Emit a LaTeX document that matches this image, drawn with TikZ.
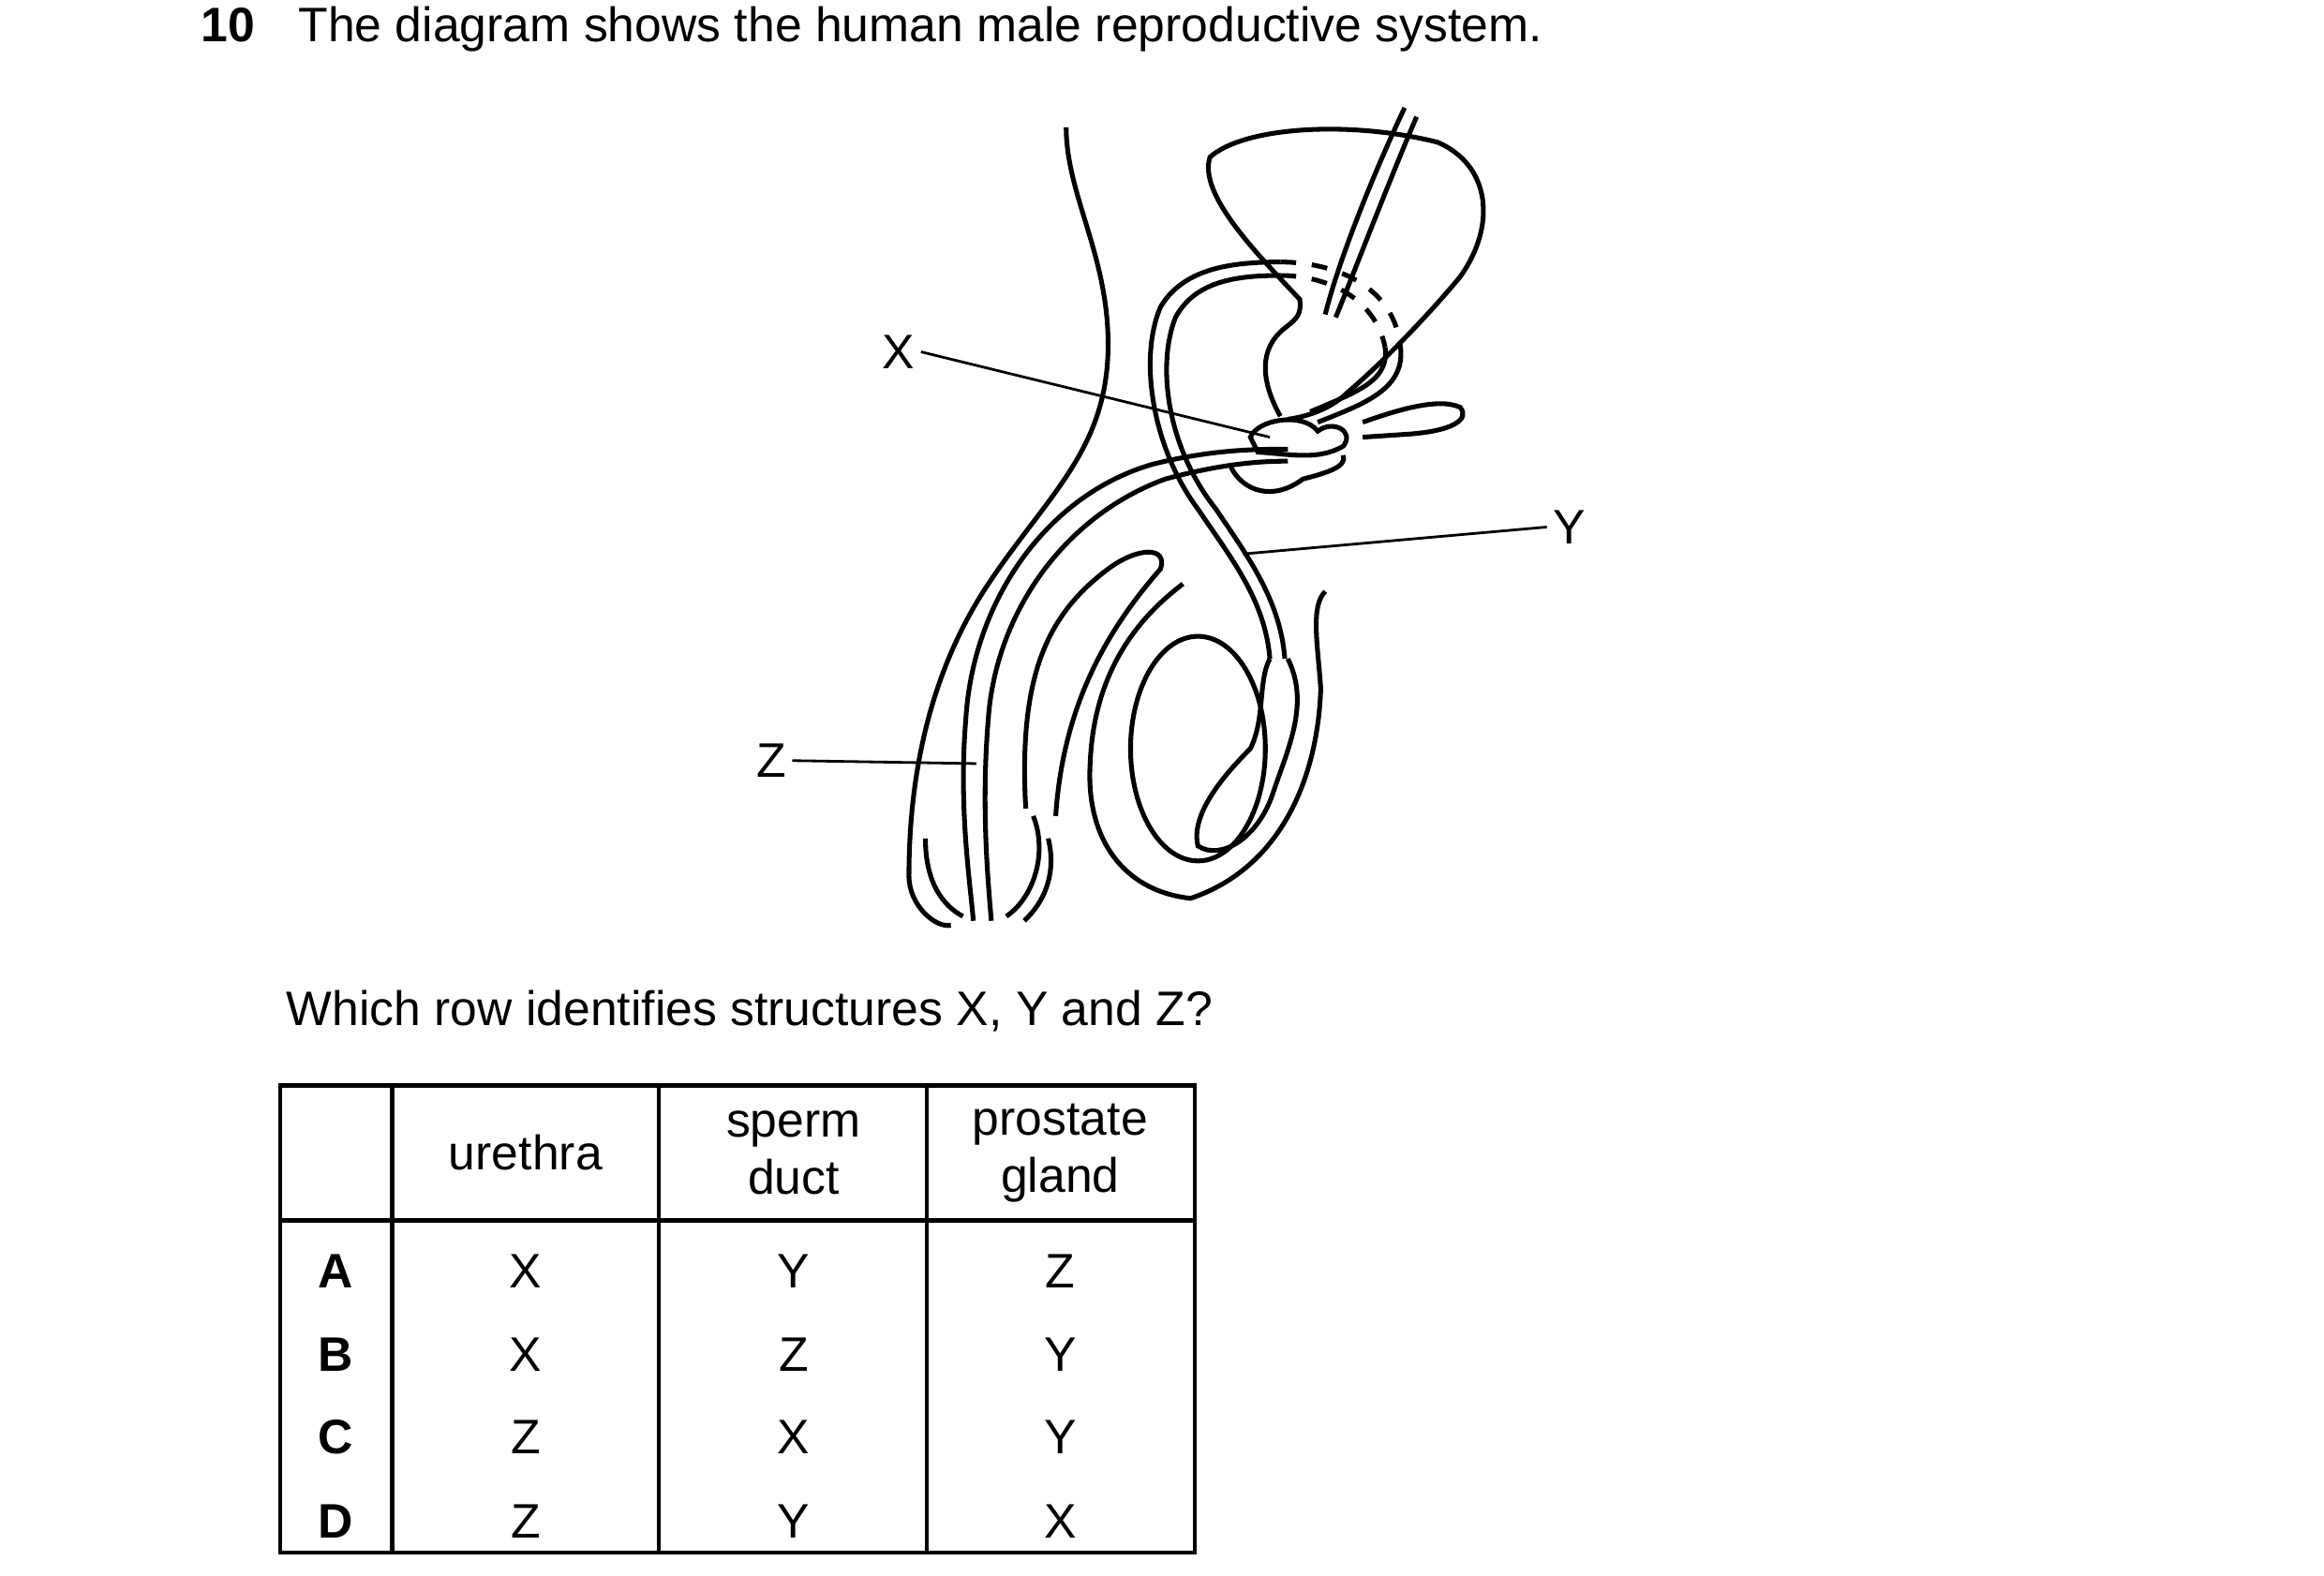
\documentclass[tikz,border=0pt]{standalone}
\usepackage{fontspec}
\setmainfont{Liberation Sans}
\begin{document}
\begin{tikzpicture}[x=0.01cm,y=-0.01cm,
 txt/.style={font=\fontsize{9.2pt}{10.8pt}\selectfont,inner sep=1pt},
 org/.style={line width=0.9pt},
 lbl/.style={line width=0.5pt}]
\useasboundingbox (0,0) rectangle (1552,1052);
\node[txt,anchor=base west] (title) at (130,28) {\textbf{10}\hspace{0.9em}The diagram shows the human male reproductive system.};
% body outline
\draw[org] (712,85) .. controls (712,130) and (740,170) .. (740,230) .. controls (740,300) and (700,330) .. (660,390) .. controls (620,450) and (607,520) .. (607,585) .. controls (607,605) and (625,620) .. (635,618);
\draw[org] (618,560) .. controls (618,590) and (630,605) .. (643,612);
% penis urethra lines
\draw[org] (860,300) .. controls (840,300) and (810,300) .. (770,310) .. controls (700,330) and (650,400) .. (645,480) .. controls (640,540) and (648,590) .. (650,615);
\draw[org] (860,308) .. controls (840,308) and (815,310) .. (778,320) .. controls (710,345) and (665,410) .. (660,480) .. controls (655,540) and (660,590) .. (662,615);
\draw[org] (685,540) .. controls (680,450) and (700,410) .. (740,380) .. controls (760,365) and (780,365) .. (775,380) .. controls (740,420) and (710,470) .. (705,545);
\draw[org] (690,545) .. controls (700,570) and (690,600) .. (672,612);
\draw[org] (700,560) .. controls (705,580) and (700,600) .. (684,615);
% bladder
\draw[org] (855,278) .. controls (845,260) and (840,240) .. (852,225) .. controls (860,215) and (870,215) .. (868,200) .. controls (840,170) and (800,130) .. (808,105) .. controls (830,85) and (900,80) .. (960,95) .. controls (995,110) and (1000,150) .. (975,185) .. controls (950,215) and (920,245) .. (900,262) .. controls (890,272) and (875,278) .. (860,280);
% ureter
\draw[org] (938,72) .. controls (920,110) and (895,170) .. (885,210);
\draw[org] (946,78) .. controls (930,115) and (905,180) .. (892,212);
% sperm duct loop
\draw[org] (848,440) .. controls (845,400) and (820,370) .. (800,340) .. controls (770,300) and (760,240) .. (775,205) .. controls (790,180) and (820,175) .. (855,175);
\draw[org] (858,440) .. controls (855,400) and (832,370) .. (812,340) .. controls (780,300) and (772,245) .. (785,212) .. controls (798,188) and (825,184) .. (855,184);
\draw[org,dashed] (855,175) .. controls (890,175) and (930,190) .. (935,230);
\draw[org,dashed] (855,184) .. controls (885,184) and (918,198) .. (925,232);
\draw[org] (935,230) .. controls (940,260) and (910,270) .. (880,282);
\draw[org] (925,232) .. controls (928,255) and (905,262) .. (875,275);
% glands
\draw[org] (835,292) .. controls (840,280) and (870,275) .. (880,288) .. controls (890,280) and (905,288) .. (897,298) .. controls (880,308) and (860,303) .. (840,302) -- cycle;
\draw[org] (822,312) .. controls (830,328) and (850,335) .. (870,320) .. controls (885,316) and (900,312) .. (897,304);
\draw[org] (910,282) .. controls (930,275) and (960,265) .. (975,272) .. controls (982,280) and (970,288) .. (940,290) -- (910,292);
% scrotum and testis
\draw[org] (885,395) .. controls (875,405) and (880,430) .. (882,460) .. controls (880,520) and (855,580) .. (795,600) .. controls (750,595) and (725,560) .. (728,510) .. controls (730,460) and (750,420) .. (790,390);
\draw[org] (800,500) ellipse (45 and 75);
\draw[org] (860,440) .. controls (875,470) and (860,500) .. (850,530) .. controls (840,560) and (815,575) .. (800,565) .. controls (795,545) and (815,520) .. (835,500) .. controls (845,480) and (840,455) .. (848,440);
% labels
\node[txt] (X) at (600,235) {X};
\coordinate (xe) at (848,292);
\draw[lbl] (X.east) -- (xe);
\node[txt] (Y) at (1048,352) {Y};
\coordinate (ye) at (830,370);
\draw[lbl] (Y.west) -- (ye);
\node[txt] (Z) at (515,508) {Z};
\coordinate (ze) at (652,510);
\draw[lbl] (Z.east) -- (ze);
\node[txt,anchor=base west] (q) at (187,685) {Which row identifies structures X, Y and Z?};
% table
\draw[line width=0.8pt] (187,725) rectangle (798,1037);
\draw[line width=0.8pt] (187,815) -- (798,815);
\foreach \x in {262,440,619} \draw[line width=0.8pt] (\x,725) -- (\x,1037);
\node[txt] (h1) at (351,770) {urethra};
\node[txt,align=center] (h2) at (530,770) {sperm\\duct};
\node[txt,align=center] (h3) at (708,770) {prostate\\gland};
\foreach \r/\y/\a/\b/\c in {A/849/X/Y/Z,B/905/X/Z/Y,C/960/Z/X/Y,D/1016/Z/Y/X}{
 \node[txt] at (224,\y) {\textbf{\r}};
 \node[txt] at (351,\y) {\a};
 \node[txt] at (530,\y) {\b};
 \node[txt] at (708,\y) {\c};
}
\end{tikzpicture}
\end{document}
